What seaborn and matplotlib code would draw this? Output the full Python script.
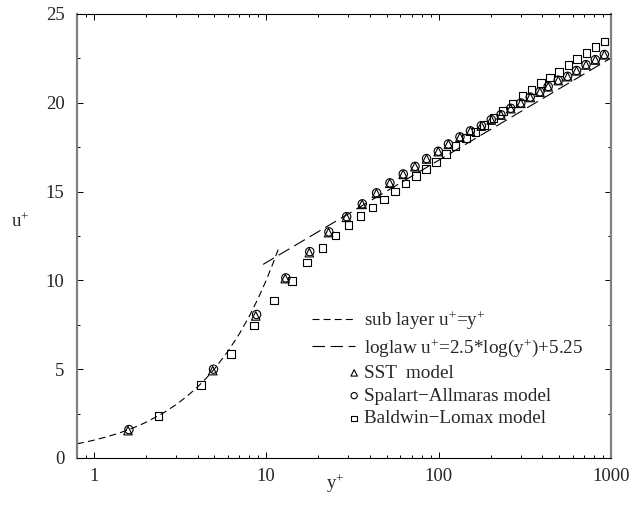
import numpy as np
import pandas as pd
import matplotlib
matplotlib.use("Agg")
import matplotlib.pyplot as plt
import matplotlib.ticker as mticker
from matplotlib.legend_handler import HandlerPathCollection
from matplotlib.collections import PathCollection
import seaborn as sns

# ---------------- data ----------------
sub_yp = [0.8, 0.9, 1.0, 1.2, 1.4, 1.6, 1.8, 2.0, 2.5, 3.0, 3.5, 4.0, 4.5, 5.0,
          6.0, 7.0, 8.0, 9.0, 10.0, 11.0, 11.8]
sub_up = [0.8, 0.9, 1.0, 1.2, 1.4, 1.6, 1.8, 2.0, 2.5, 3.0, 3.5, 4.0, 4.5, 5.0,
          6.0, 7.0, 8.0, 9.0, 10.0, 11.0, 11.8]

log_yp = [9.6, 100.0, 1000.0]
log_up = [10.90, 16.76, 22.52]

sst_yp = [1.58, 4.9, 8.7, 12.9, 17.8, 23.0, 29.2, 36.0, 43.6, 52.1,
          62.3, 72.9, 85.1, 99.5, 114, 133, 153, 177, 202, 230,
          262, 300, 340, 387, 432, 494, 560, 631, 716, 811, 915]
sst_up = [1.54, 4.92, 8.0, 10.1, 11.56, 12.69, 13.55, 14.28, 14.9, 15.47,
          15.97, 16.4, 16.84, 17.25, 17.66, 18.06, 18.4, 18.69, 19.03, 19.31,
          19.67, 19.97, 20.3, 20.6, 20.9, 21.25, 21.47, 21.8, 22.13, 22.41, 22.7]

sa_yp = [1.6, 4.95, 8.8, 13.0, 17.9, 23.1, 29.3, 36.1, 43.7, 52.2,
         62.4, 73.0, 85.2, 99.6, 114, 133, 153, 177, 202, 230,
         262, 300, 340, 387, 432, 494, 560, 631, 716, 811, 915]
sa_up = [1.6, 5.0, 8.08, 10.14, 11.62, 12.73, 13.59, 14.31, 14.93, 15.49,
         15.99, 16.42, 16.86, 17.27, 17.68, 18.08, 18.42, 18.71, 19.05, 19.33,
         19.69, 19.99, 20.32, 20.62, 20.92, 21.27, 21.49, 21.82, 22.15, 22.43, 22.72]

bl_yp = [2.37, 4.19, 6.23, 8.5, 11.1, 14.1, 17.3, 21.2, 25.3, 30.1,
         35.2, 41.3, 48.1, 55.7, 64.3, 73.8, 84.8, 96.5, 110, 125,
         144, 164, 183, 208, 237, 268, 307, 346, 392, 442,
         501, 568, 637, 722, 811, 915]
bl_up = [2.36, 4.11, 5.86, 7.47, 8.86, 9.98, 11.0, 11.84, 12.52, 13.12,
         13.64, 14.1, 14.56, 15.0, 15.45, 15.88, 16.27, 16.68, 17.1, 17.57,
         18.0, 18.37, 18.75, 19.13, 19.54, 19.97, 20.38, 20.72, 21.1, 21.43,
         21.75, 22.13, 22.45, 22.79, 23.13, 23.44]

x_ticks = [1, 10, 100, 1000]
x_ticklabels = ["1", "10", "100", "1000"]
y_ticks = [0, 5, 10, 15, 20, 25]

labels = ["sub layer u$^{+}$=y$^{+}$",
          "loglaw u$^{+}$=2.5*log(y$^{+}$)+5.25",
          "SST  model",
          "Spalart\u2212Allmaras model",
          "Baldwin\u2212Lomax model"]

# ---------------- style ----------------
sns.set_style("ticks")
plt.rcParams["font.family"] = ["Liberation Serif", "DejaVu Serif"]
plt.rcParams["mathtext.fontset"] = "custom"
plt.rcParams["mathtext.rm"] = "Liberation Serif"
plt.rcParams["mathtext.it"] = "Liberation Serif:italic"
plt.rcParams["mathtext.bf"] = "Liberation Serif:bold"
plt.rcParams["lines.scale_dashes"] = False

fig = plt.figure(figsize=(6.44, 5.14), dpi=100)
ax = fig.add_axes([0.1196, 0.109, 0.8292, 0.8638])

sns.lineplot(x=sub_yp, y=sub_up, ax=ax, color="black", linewidth=0.8,
             linestyle=(0, (5, 3)), label=labels[0], sort=False, estimator=None)
sns.lineplot(x=log_yp, y=log_up, ax=ax, color="black", linewidth=0.8,
             linestyle=(0, (9, 4)), label=labels[1], sort=False, estimator=None)

sns.scatterplot(x=bl_yp, y=bl_up, ax=ax, marker="s", s=30, facecolor="none",
                edgecolor="black", linewidth=0.8, label=labels[4], zorder=3)
sns.scatterplot(x=sa_yp, y=sa_up, ax=ax, marker="o", s=36, facecolor="none",
                edgecolor="black", linewidth=0.8, label=labels[3], zorder=3)
sns.scatterplot(x=sst_yp, y=sst_up, ax=ax, marker="^", s=38, facecolor="none",
                edgecolor="black", linewidth=0.8, label=labels[2], zorder=4)

ax.set_xscale("log")
ax.set_xlim(0.8, 1000)
ax.set_ylim(0, 25)
ax.set_xticks(x_ticks, labels=x_ticklabels)
ax.xaxis.set_minor_locator(mticker.LogLocator(base=10, subs=np.arange(2, 10)))
ax.xaxis.set_minor_formatter(mticker.NullFormatter())
ax.set_yticks(y_ticks)
ax.yaxis.set_minor_locator(mticker.MultipleLocator(2.5))

ax.tick_params(which="both", direction="in", top=True, right=True,
               color="black", width=0.7, labelsize=13.5)
ax.tick_params(which="major", length=4.5)
ax.tick_params(which="minor", length=2.5)
ax.tick_params(axis="y", pad=9)
ax.tick_params(axis="x", pad=7)

for side in ("left", "right"):
    ax.spines[side].set_color("#808080")
    ax.spines[side].set_linewidth(1.6)
for side in ("top", "bottom"):
    ax.spines[side].set_color("black")
    ax.spines[side].set_linewidth(0.8)

ax.set_xlabel("y$^{+}$", fontsize=13.5, va="center", ha="center")
ax.set_ylabel("u$^{+}$", fontsize=13.5, rotation=0, va="center", ha="center")
ax.xaxis.set_label_coords(0.483, -0.0586)
ax.yaxis.set_label_coords(-0.107, 0.532)


class RightMarker(HandlerPathCollection):
    def get_xdata(self, legend, xdescent, ydescent, width, height, fontsize):
        x = -xdescent + width - 0.05 * fontsize
        return [x], [x]


handles, labs = ax.get_legend_handles_labels()
order = [labs.index(l) for l in labels]
h = [handles[i] for i in order]
leg = ax.legend(h, labels, loc="upper left", bbox_to_anchor=(0.44, 0.335),
                frameon=False, fontsize=13.8, handlelength=2.25, handletextpad=0.45,
                borderpad=0, borderaxespad=0, labelspacing=0.28,
                markerscale=0.75, scatterpoints=1,
                handler_map={PathCollection: RightMarker()})

fig.savefig("out.png", dpi=100, facecolor="white")
